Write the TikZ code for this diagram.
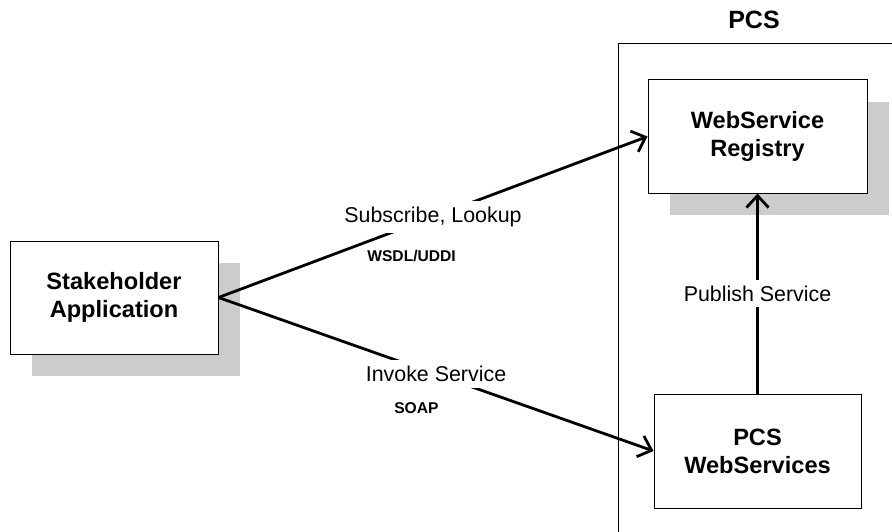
\documentclass[tikz,border=0pt]{standalone}
\usepackage{fontspec}
\setmainfont{Liberation Sans}
\usepackage{tikz}
\usetikzlibrary{arrows.meta,positioning,shadows}
\tikzstyle{BOX} = [rectangle, draw, line width=0.5pt, fill=white, align=center, minimum height=56.5pt, font=\fontsize{11.8}{14}\selectfont\bfseries]
\tikzstyle{BOX_SHADOW} = [BOX, drop shadow={shadow xshift=11pt, shadow yshift=-11pt, fill=black!20, opacity=1}]
\tikzstyle{ARROW} = [draw, line width=1.4pt, -{Straight Barb[length=6pt,width=11pt]}]

\begin{document}
\begin{tikzpicture}
% Define
\tikzstyle{LABEL_1} = [fill=white, inner xsep=1pt, inner ysep=3pt, font=\fontsize{10.7}{12}\selectfont]
\tikzstyle{LABEL_2} = [inner sep=1pt, font=\fontsize{7.8}{9}\selectfont\bfseries]
\tikzstyle{TITLE} = [font=\fontsize{12.5}{14}\selectfont\bfseries]
\tikzstyle{FRAME} = [draw, line width=0.5pt]
\useasboundingbox (0,0) rectangle (446pt,265.5pt);
% PCS frame
\coordinate (FRAME_NW) at (309pt,243.5pt);
\coordinate (FRAME_SE) at (470pt,-10pt);
\path [FRAME] (FRAME_NW) rectangle (FRAME_SE);
\node [TITLE] (PCS_TITLE) at (377pt,255.5pt) {PCS};
% Place node
\node [BOX_SHADOW, minimum width=104pt] (STAKEHOLDER) at (57pt,116.75pt) {Stakeholder\\ Application};
\node [BOX_SHADOW, minimum width=109.5pt] (REGISTRY) at (378.75pt,197.25pt) {WebService\\ Registry};
\node [BOX, minimum width=103.5pt, minimum height=57pt, below=100pt of REGISTRY] (SERVICES) {PCS\\ WebServices};
% LINES and ARROWS
\path [ARROW] (STAKEHOLDER.east) -- node [LABEL_1, pos=0.5] (l_1) {Subscribe, Lookup} node [LABEL_2, pos=0.45, yshift=-15.5pt] (l_2) {WSDL/UDDI} (REGISTRY.west);
\path [ARROW] (STAKEHOLDER.east) -- node [LABEL_1, pos=0.5] (l_3) {Invoke Service} node [LABEL_2, pos=0.455, yshift=-20.5pt] (l_4) {SOAP} (SERVICES.west);
\path [ARROW] (SERVICES) -- node [LABEL_1, pos=0.5] (l_5) {Publish Service} (REGISTRY);
\end{tikzpicture}
\end{document}
